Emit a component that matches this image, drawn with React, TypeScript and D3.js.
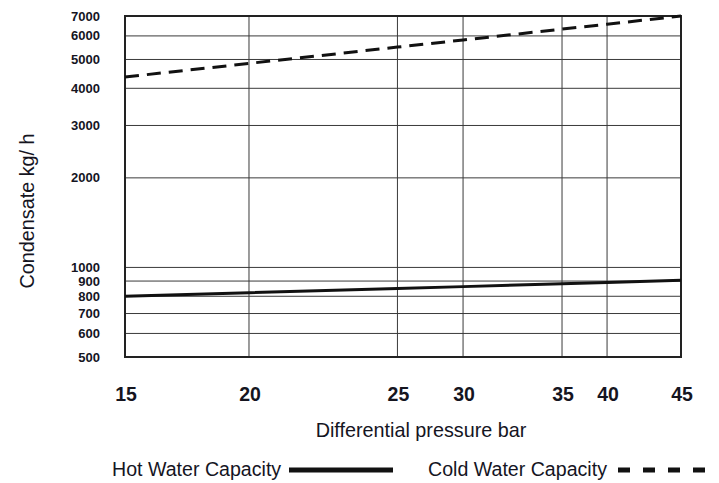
import React, { useEffect, useRef } from "react";
import * as d3 from "d3";

// differential pressure (bar) at which values were read
const pressures = [15, 20, 25, 30, 35, 40, 45];
const hotWater = [800, 822, 849, 862, 881, 890, 905];
const coldWater = [4365, 4850, 5502, 5813, 6324, 6569, 7000];

const yTicks = [500, 600, 700, 800, 900, 1000, 2000, 3000, 4000, 5000, 6000, 7000];
const xTicks = [15, 20, 25, 30, 35, 40, 45];
// the printed x axis is not evenly spaced: share of plot width for each tick
const xTickShare = [0, 0.223, 0.49, 0.608, 0.786, 0.867, 1];

const App = () => {
  const chartRef = useRef<SVGSVGElement | null>(null);

  useEffect(() => {
    const W = 719;
    const H = 483;
    const margin = { top: 16, right: 38, bottom: 126, left: 125 };
    const width = W - margin.left - margin.right;
    const height = H - margin.top - margin.bottom;
    const font = "'Liberation Sans', Arial, sans-serif";
    const ink = "#15151f";

    const root = d3.select(chartRef.current);
    root.selectAll("*").remove();

    const svg = root.append("g").attr("transform", `translate(${margin.left},${margin.top})`);

    const x = d3
      .scaleLinear()
      .domain(xTicks)
      .range(xTickShare.map((s) => s * width));

    const y = d3.scaleLog().domain([500, 7000]).range([height, 0]);

    // grid
    svg
      .selectAll(".hgrid")
      .data(yTicks.slice(1, -1))
      .enter()
      .append("line")
      .attr("x1", 0)
      .attr("x2", width)
      .attr("y1", (d) => y(d))
      .attr("y2", (d) => y(d))
      .attr("stroke", "#3a3a3a")
      .attr("stroke-width", 1);

    svg
      .selectAll(".vgrid")
      .data(xTicks.slice(1, -1))
      .enter()
      .append("line")
      .attr("y1", 0)
      .attr("y2", height)
      .attr("x1", (d) => x(d))
      .attr("x2", (d) => x(d))
      .attr("stroke", "#3a3a3a")
      .attr("stroke-width", 1);

    svg
      .append("rect")
      .attr("width", width)
      .attr("height", height)
      .attr("fill", "none")
      .attr("stroke", "#222")
      .attr("stroke-width", 2);

    // tick labels
    svg
      .selectAll(".ylab")
      .data(yTicks)
      .enter()
      .append("text")
      .attr("x", -25)
      .attr("y", (d) => y(d) + 4.5)
      .attr("text-anchor", "end")
      .attr("font-family", font)
      .attr("font-weight", "bold")
      .attr("font-size", 13)
      .attr("fill", ink)
      .text((d) => d);

    svg
      .selectAll(".xlab")
      .data(xTicks)
      .enter()
      .append("text")
      .attr("x", (d) => x(d) + 1)
      .attr("y", height + 44)
      .attr("text-anchor", "middle")
      .attr("font-family", font)
      .attr("font-weight", "bold")
      .attr("font-size", 19.5)
      .attr("fill", ink)
      .text((d) => d);

    // axis titles
    svg
      .append("text")
      .attr("x", 296)
      .attr("y", height + 80)
      .attr("text-anchor", "middle")
      .attr("font-family", font)
      .attr("font-size", 19.8)
      .attr("fill", ink)
      .text("Differential pressure bar");

    svg
      .append("text")
      .attr("transform", `translate(${33.5 - margin.left},${211 - margin.top}) rotate(-90)`)
      .attr("text-anchor", "middle")
      .attr("font-family", font)
      .attr("font-size", 19.8)
      .attr("fill", ink)
      .text("Condensate kg/ h");

    // series
    const line = d3
      .line<number>()
      .x((_, i) => x(pressures[i]))
      .y((d) => y(d));

    svg
      .append("path")
      .datum(hotWater)
      .attr("fill", "none")
      .attr("stroke", "#111")
      .attr("stroke-width", 3)
      .attr("d", line);

    svg
      .append("path")
      .datum(coldWater)
      .attr("fill", "none")
      .attr("stroke", "#111")
      .attr("stroke-width", 3)
      .attr("stroke-dasharray", "14 8")
      .attr("d", line);

    // legend
    const legend = root.append("g");
    legend
      .append("text")
      .attr("x", 112)
      .attr("y", 476)
      .attr("font-family", font)
      .attr("font-size", 19.6)
      .attr("fill", ink)
      .text("Hot Water Capacity");
    legend
      .append("line")
      .attr("x1", 289)
      .attr("x2", 393)
      .attr("y1", 470)
      .attr("y2", 470)
      .attr("stroke", "#111")
      .attr("stroke-width", 5);
    legend
      .append("text")
      .attr("x", 428)
      .attr("y", 476)
      .attr("font-family", font)
      .attr("font-size", 19.6)
      .attr("fill", ink)
      .text("Cold Water Capacity");
    legend
      .append("line")
      .attr("x1", 618)
      .attr("x2", 706)
      .attr("y1", 470)
      .attr("y2", 470)
      .attr("stroke", "#111")
      .attr("stroke-width", 5)
      .attr("stroke-dasharray", "12 13");
  }, []);

  return (
    <svg
      ref={chartRef}
      width={719}
      height={483}
      style={{ position: "absolute", left: 0, top: 0, background: "#fff" }}
    />
  );
};

export default App;
